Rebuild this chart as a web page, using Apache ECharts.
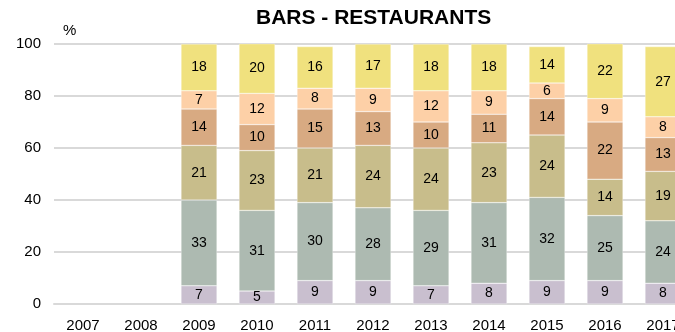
<!DOCTYPE html>
<html>
<head>
<meta charset="utf-8">
<style>
  html, body { margin: 0; padding: 0; background: #fff; }
  #chart { width: 675px; height: 332px; }
</style>
<script src="https://cdn.jsdelivr.net/npm/echarts@6/dist/echarts.min.js"></script>
</head>
<body>
<div id="chart"></div>
<script>
// Restaurant share of bars by year, in percent, stacked by segment
const years = ['2007', '2008', '2009', '2010', '2011', '2012', '2013', '2014', '2015', '2016', '2017'];
const seg1 = [null, null, 7, 5, 9, 9, 7, 8, 9, 9, 8];
const seg2 = [null, null, 33, 31, 30, 28, 29, 31, 32, 25, 24];
const seg3 = [null, null, 21, 23, 21, 24, 24, 23, 24, 14, 19];
const seg4 = [null, null, 14, 10, 15, 13, 10, 11, 14, 22, 13];
const seg5 = [null, null, 7, 12, 8, 9, 12, 9, 6, 9, 8];
const seg6 = [null, null, 18, 20, 16, 17, 18, 18, 14, 22, 27];
const yTicks = [0, 20, 40, 60, 80, 100];

const segments = [
  { name: 'seg1', data: seg1, color: '#c9bfcf' },
  { name: 'seg2', data: seg2, color: '#adbab1' },
  { name: 'seg3', data: seg3, color: '#c8bd8b' },
  { name: 'seg4', data: seg4, color: '#d8aa82' },
  { name: 'seg5', data: seg5, color: '#fdd0a7' },
  { name: 'seg6', data: seg6, color: '#f0e17e' }
];

const FONT = 'Liberation Sans, Arial, sans-serif';
const chart = echarts.init(document.getElementById('chart'), null, { renderer: 'canvas' });

chart.setOption({
  animation: false,
  textStyle: { fontFamily: FONT },
  title: {
    text: 'BARS - RESTAURANTS',
    left: 251,
    top: 3,
    textStyle: { fontSize: 21, fontWeight: 'bold', color: '#000', fontFamily: FONT }
  },
  // the plot runs past the right edge, so the last year is partly cut off
  grid: { left: 54, top: 44, width: 638, height: 260, containLabel: false, outerBoundsMode: 'none' },
  xAxis: {
    type: 'category',
    data: years,
    axisLine: { show: true, lineStyle: { color: '#d9d9d9', width: 2 } },
    axisTick: { show: false },
    axisLabel: { color: '#000', fontSize: 15, margin: 14 },
    splitLine: { show: false }
  },
  yAxis: {
    type: 'value',
    min: yTicks[0],
    max: yTicks[yTicks.length - 1],
    interval: 20,
    name: '%',
    nameLocation: 'end',
    nameGap: 6,
    nameTextStyle: { color: '#000', fontSize: 15, align: 'left', padding: [0, 0, 0, 9] },
    axisLine: { show: false },
    axisTick: { show: false },
    axisLabel: { color: '#000', fontSize: 15, margin: 13 },
    splitLine: { show: true, lineStyle: { color: '#d9d9d9', width: 2 } }
  },
  series: segments.map(s => ({
    name: s.name,
    type: 'bar',
    stack: 'total',
    data: s.data,
    barWidth: 36,
    itemStyle: { color: s.color, borderColor: 'rgba(255,255,255,0.6)', borderWidth: 0.5 },
    label: {
      show: true,
      position: 'inside',
      color: '#000',
      fontSize: 14,
      fontFamily: FONT
    }
  }))
});
</script>
</body>
</html>
